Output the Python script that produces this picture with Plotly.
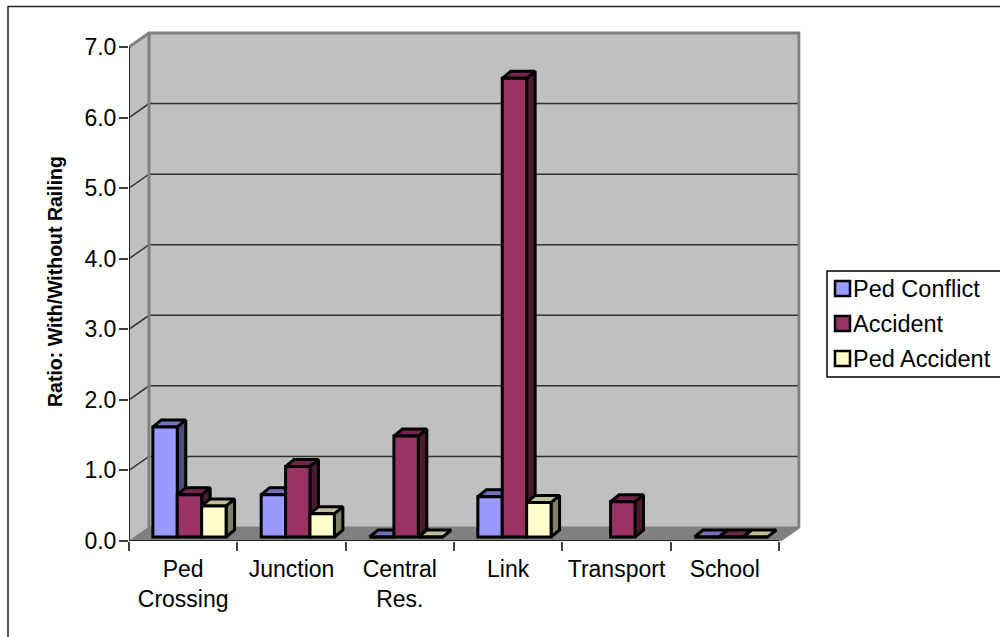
import plotly.graph_objects as go

categories = ["Ped<br>Crossing", "Junction", "Central<br>Res.", "Link", "Transport", "School"]
series_names = ["Ped Conflict", "Accident", "Ped Accident"]
ped_conflict = [1.56, 0.6, 0.0, 0.57, None, 0.0]
accident = [0.6, 1.0, 1.43, 6.5, 0.5, 0.0]
ped_accident = [0.44, 0.33, 0.0, 0.49, None, 0.0]
y_ticks = [0, 1, 2, 3, 4, 5, 6, 7]
y_labels = ["0.0", "1.0", "2.0", "3.0", "4.0", "5.0", "6.0", "7.0"]

front_colors = ["#9999FF", "#993366", "#FFFFCC"]
side_colors = ["#4D4D80", "#4D1A33", "#808066"]
top_colors = ["#7272BF", "#73264D", "#BFBF99"]

W, H = 1000, 637
PX_X = 108.33   # pixels per category
PX_Y = 70.57    # pixels per unit
X0, Y0 = 129, 541
XMAX, YMAX = 6.2, 7.25

WALL_DX = 20 / PX_X
WALL_DY = 14 / PX_Y
BAR_DX = 8.5 / PX_X
BAR_DY = 7 / PX_Y
BASE = 4 / PX_Y
BAR_W = 24.4 / PX_X
GROUP_SHIFT = 6.3 / PX_X
EDGE = 3

fig = go.Figure()


def poly(xs, ys, fill, line, width=1):
    fig.add_trace(go.Scatter(
        x=xs + xs[:1], y=ys + ys[:1], mode="lines", fill="toself", fillcolor=fill,
        line=dict(color=line, width=width), showlegend=False, hoverinfo="skip"))


def seg(xs, ys, color, width):
    fig.add_trace(go.Scatter(x=xs, y=ys, mode="lines", line=dict(color=color, width=width),
                             showlegend=False, hoverinfo="skip"))


n = len(categories)
# walls and floor
poly([0, WALL_DX, WALL_DX, 0], [0, WALL_DY, 7 + WALL_DY, 7], "#C0C0C0", "#C0C0C0")
poly([WALL_DX, n + WALL_DX, n + WALL_DX, WALL_DX], [WALL_DY, WALL_DY, 7 + WALL_DY, 7 + WALL_DY], "#C0C0C0", "#C0C0C0")
poly([0, n, n + WALL_DX, WALL_DX], [0, 0, WALL_DY, WALL_DY], "#808080", "#808080")
# gridlines
for v in y_ticks[1:7]:
    seg([0, WALL_DX, n + WALL_DX], [v, v + WALL_DY, v + WALL_DY], "#333333", 1.5)
# wall edges
seg([0, WALL_DX, n + WALL_DX, n + WALL_DX, n], [7, 7 + WALL_DY, 7 + WALL_DY, WALL_DY, 0], "#808080", 3)
seg([WALL_DX, WALL_DX], [WALL_DY, 7 + WALL_DY], "#808080", 3)
seg([0, 0], [0, 7], "#222222", 2)
seg([0, n], [0, 0], "#222222", 2)

# side and top faces
series = [ped_conflict, accident, ped_accident]
for s, vals in enumerate(series):
    for i, v in enumerate(vals):
        if v is None:
            continue
        left = i + 0.5 + GROUP_SHIFT + (s - 1.5) * BAR_W
        right = left + BAR_W
        bot, top = BASE, BASE + v
        if v > 0:
            poly([right, right + BAR_DX, right + BAR_DX, right],
                 [bot, bot + BAR_DY, top + BAR_DY, top], side_colors[s], "#000000", EDGE)
        poly([left, left + BAR_DX, right + BAR_DX, right],
             [top, top + BAR_DY, top + BAR_DY, top], top_colors[s], "#000000", EDGE)

# front faces
x_centers = [i + 0.5 + GROUP_SHIFT for i in range(n)]
for s, vals in enumerate(series):
    fig.add_trace(go.Bar(
        x=x_centers, y=vals, base=BASE, name=series_names[s], xaxis="x2", yaxis="y2", showlegend=False,
        marker=dict(color=front_colors[s], line=dict(color="#000000", width=EDGE)),
    ))


def px(x):
    return x / W


def py(y):
    return 1 - y / H


# hand-placed legend, so the swatches sit where the reference has them
shapes = [
    dict(type="rect", xref="paper", yref="paper", x0=px(8), x1=px(1012), y0=py(650), y1=py(6.5),
         line=dict(color="#222222", width=1.5), layer="below"),
    dict(type="rect", xref="paper", yref="paper", x0=px(827), x1=px(1012), y0=py(377), y1=py(271),
         fillcolor="#FFFFFF", line=dict(color="#000000", width=1.5), layer="below"),
]
annotations = [dict(xref="paper", yref="paper", x=px(55), y=py(282), text="<b>Ratio: With/Without Railing</b>",
                    textangle=-90, showarrow=False, xanchor="center", yanchor="middle", font=dict(size=19.5))]
legend_tops = [281, 316, 351]
for s, name in enumerate(series_names):
    t = legend_tops[s]
    shapes.append(dict(type="rect", xref="paper", yref="paper", x0=px(835), x1=px(850), y0=py(t + 15), y1=py(t),
                       fillcolor=front_colors[s], line=dict(color="#000000", width=2.5), layer="above"))
    annotations.append(dict(xref="paper", yref="paper", x=px(851), y=py(t + 8), text=name, showarrow=False,
                            xanchor="left", yanchor="middle", font=dict(size=23.5)))

font = "Liberation Sans, Arial, sans-serif"
xdom = [X0 / W, (X0 + XMAX * PX_X) / W]
ydom = [1 - Y0 / H, 1 - (Y0 - YMAX * PX_Y) / H]
fig.update_layout(
    width=W, height=H, autosize=False, margin=dict(l=0, r=0, t=0, b=0),
    paper_bgcolor="#FFFFFF", plot_bgcolor="rgba(0,0,0,0)",
    font=dict(family=font, size=23, color="#000000"),
    barmode="group", bargap=1 - 3 * BAR_W, bargroupgap=0, showlegend=False,
    xaxis=dict(domain=xdom, range=[0, XMAX], tickvals=[i + 0.5 for i in range(n)], ticktext=categories,
               ticks="outside", ticklen=7, tickcolor="rgba(0,0,0,0)", showgrid=False, zeroline=False,
               showline=False, tickangle=0, automargin=False,
               minor=dict(tickvals=list(range(n + 1)), ticks="outside", ticklen=9, tickcolor="#404040",
                          tickwidth=1.5, showgrid=False)),
    yaxis=dict(domain=ydom, range=[0, YMAX], tickvals=y_ticks, ticktext=y_labels, ticks="outside",
               ticklen=9, tickcolor="#404040", tickwidth=1.5, showgrid=False, zeroline=False, showline=False,
               automargin=False, ticklabelstandoff=-2),
    xaxis2=dict(domain=xdom, range=[0, XMAX], overlaying="x", visible=False, anchor="y2", automargin=False),
    yaxis2=dict(domain=ydom, range=[0, YMAX], overlaying="y", visible=False, anchor="x2", automargin=False),
    shapes=shapes,
    annotations=annotations,
)

fig.write_html("out.html", config={"displayModeBar": False, "responsive": False},
               default_width="1000px", default_height="637px",
               post_script="document.body.style.margin='0';document.body.style.overflow='hidden';")
